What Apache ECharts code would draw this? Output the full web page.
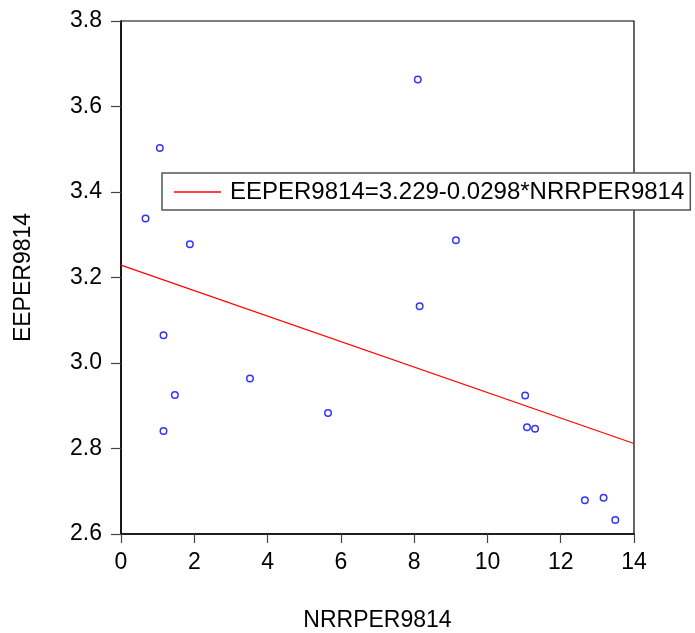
<!DOCTYPE html>
<html>
<head>
<meta charset="utf-8">
<script src="https://cdn.jsdelivr.net/npm/echarts@6/dist/echarts.min.js"></script>
<style>
html,body{margin:0;padding:0;background:#fff;}
#chart{width:695px;height:633px;}
</style>
</head>
<body>
<div id="chart"></div>
<script>
// Data
const nrrper9814 = [0.67, 1.06, 1.88, 1.16, 1.47, 1.16, 3.52, 5.65, 8.10, 8.15, 9.14, 11.03, 11.08, 11.30, 12.66, 13.17, 13.49];
const eeper9814  = [3.338, 3.503, 3.278, 3.065, 2.925, 2.841, 2.964, 2.883, 3.663, 3.133, 3.287, 2.924, 2.850, 2.846, 2.679, 2.685, 2.633];
const fitIntercept = 3.229;
const fitSlope = -0.0298;
const fitXRange = [0, 14];
const fitLabel = 'EEPER9814=3.229-0.0298*NRRPER9814';
const xTicks = [0, 2, 4, 6, 8, 10, 12, 14];
const yTicks = [2.6, 2.8, 3.0, 3.2, 3.4, 3.6, 3.8];
const xName = 'NRRPER9814';
const yName = 'EEPER9814';

const scatterData = nrrper9814.map((x, i) => [x, eeper9814[i]]);
const fitData = fitXRange.map(x => [x, fitIntercept + fitSlope * x]);

const FONT = 'Liberation Sans, Arial, sans-serif';
const chart = echarts.init(document.getElementById('chart'), null, {renderer: 'canvas'});
chart.setOption({
  animation: false,
  backgroundColor: '#fff',
  grid: {left: 121, right: 61, top: 21, bottom: 99, show: true, borderColor: '#000', borderWidth: 1.2, containLabel: false, outerBoundsMode: 'none'},
  legend: {
    left: 162, top: 173,
    data: [{name: fitLabel, icon: 'rect'}],
    itemWidth: 47, itemHeight: 1.5,
    padding: [7, 6, 6, 12],
    backgroundColor: '#fff',
    borderColor: '#555',
    borderWidth: 1.5,
    textStyle: {fontFamily: FONT, fontSize: 24, color: '#000', padding: [0, 0, 0, 4]}
  },
  xAxis: {
    type: 'value', min: xTicks[0], max: xTicks[xTicks.length - 1], interval: 2,
    name: xName, nameLocation: 'middle', nameGap: 75,
    nameTextStyle: {fontFamily: FONT, fontSize: 23, color: '#000'},
    axisLine: {show: true, lineStyle: {color: '#000', width: 1.5}},
    axisTick: {show: true, inside: false, length: 9, lineStyle: {color: '#444', width: 1.2}},
    axisLabel: {fontFamily: FONT, fontSize: 23, color: '#000', margin: 17},
    splitLine: {show: false}
  },
  yAxis: {
    type: 'value', min: yTicks[0], max: yTicks[yTicks.length - 1], interval: 0.2,
    name: yName, nameLocation: 'middle', nameGap: 86, nameRotate: 90,
    nameTextStyle: {fontFamily: FONT, fontSize: 23, color: '#000'},
    axisLine: {show: true, lineStyle: {color: '#000', width: 1.5}},
    axisTick: {show: true, inside: false, length: 10, lineStyle: {color: '#444', width: 1.2}},
    axisLabel: {fontFamily: FONT, fontSize: 23, color: '#000', margin: 19, formatter: v => v.toFixed(1)},
    splitLine: {show: false}
  },
  series: [
    {
      type: 'scatter', name: 'points', data: scatterData,
      symbol: 'circle', symbolSize: 6.5,
      itemStyle: {color: '#fff', borderColor: '#0000ff', borderWidth: 1.5},
      z: 3
    },
    {
      type: 'line', name: fitLabel, data: fitData,
      showSymbol: false, symbol: 'none',
      lineStyle: {color: '#ff0000', width: 1.2},
      itemStyle: {color: '#ff0000'},
      z: 2
    }
  ]
});
</script>
</body>
</html>
